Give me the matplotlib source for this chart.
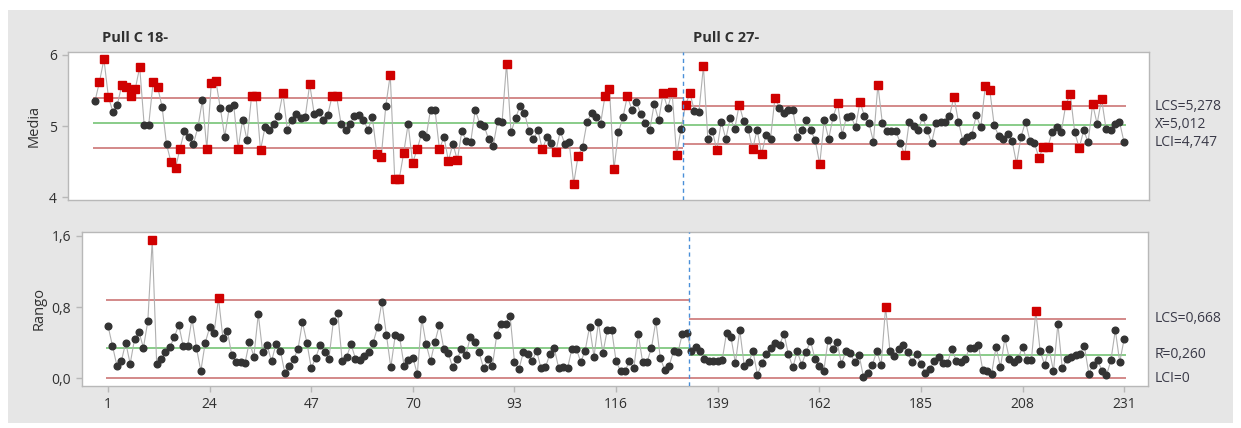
import numpy as np
import matplotlib
matplotlib.use('Agg')
import matplotlib.pyplot as plt
from matplotlib.patches import Rectangle

plt.rcParams['font.family'] = ['Open Sans', 'DejaVu Sans']

W, H = 1241, 428

# medias por subgrupo (1..231)
media = [
    5.35, 5.62, 5.94, 5.41, 5.20, 5.30, 5.58, 5.55, 5.42, 5.52,
    5.83, 5.01, 5.01, 5.62, 5.55, 5.27, 4.74, 4.49, 4.41, 4.68,
    4.93, 4.85, 4.75, 4.98, 5.36, 4.68, 5.60, 5.64, 5.26, 4.85,
    5.25, 5.30, 4.68, 5.09, 4.80, 5.42, 5.42, 4.66, 4.98, 4.94,
    5.03, 5.14, 5.46, 4.95, 5.09, 5.17, 5.11, 5.13, 5.59, 5.17,
    5.20, 5.09, 5.15, 5.42, 5.42, 5.03, 4.95, 5.03, 5.14, 5.15,
    5.09, 4.95, 5.12, 4.61, 4.57, 5.28, 5.72, 4.26, 4.25, 4.62,
    5.03, 4.48, 4.67, 4.89, 4.84, 5.23, 5.23, 4.67, 4.85, 4.51,
    4.75, 4.52, 4.93, 4.79, 4.78, 5.23, 5.03, 5.00, 4.81, 4.72,
    5.07, 5.06, 5.88, 4.91, 5.11, 5.28, 5.19, 4.93, 4.81, 4.94,
    4.67, 4.84, 4.76, 4.63, 4.93, 4.75, 4.77, 4.19, 4.58, 4.71,
    5.06, 5.18, 5.12, 5.03, 5.42, 5.52, 4.39, 4.91, 5.12, 5.42,
    5.23, 5.34, 5.17, 5.04, 4.94, 5.31, 5.08, 5.46, 5.25, 5.48,
    4.59, 4.96, 5.30, 5.46, 5.21, 5.20, 5.84, 4.81, 4.93, 4.66,
    5.06, 4.82, 5.11, 4.96, 5.30, 5.07, 4.96, 4.67, 4.95, 4.60,
    4.88, 4.82, 5.40, 5.25, 5.18, 5.23, 5.22, 4.85, 4.94, 5.09,
    4.94, 4.80, 4.46, 5.08, 4.82, 5.13, 5.32, 4.88, 5.13, 5.14,
    4.98, 5.34, 5.14, 5.04, 4.78, 5.58, 5.04, 4.93, 4.93, 4.93,
    4.76, 4.59, 5.06, 5.00, 4.95, 5.12, 4.95, 4.76, 5.04, 5.06,
    5.06, 5.14, 5.41, 5.06, 4.79, 4.85, 4.88, 5.15, 4.98, 5.56,
    5.51, 5.01, 4.86, 4.82, 4.89, 4.79, 4.47, 4.85, 5.06, 4.79,
    4.76, 4.55, 4.71, 4.71, 4.92, 4.98, 4.92, 5.30, 5.45, 4.91,
    4.69, 4.94, 4.77, 5.31, 5.03, 5.38, 4.96, 4.95, 5.03, 5.06,
    4.78,
]

# rangos por subgrupo (1..231)
rango = [
    0.585, 0.36, 0.14, 0.19, 0.40, 0.16, 0.44, 0.52, 0.34, 0.64,
    1.555, 0.16, 0.21, 0.29, 0.35, 0.46, 0.60, 0.36, 0.36, 0.67,
    0.34, 0.08, 0.40, 0.57, 0.51, 0.90, 0.45, 0.53, 0.26, 0.18,
    0.18, 0.17, 0.41, 0.24, 0.72, 0.29, 0.37, 0.19, 0.38, 0.31,
    0.06, 0.14, 0.21, 0.33, 0.63, 0.40, 0.11, 0.23, 0.37, 0.29,
    0.22, 0.64, 0.73, 0.19, 0.24, 0.38, 0.22, 0.20, 0.25, 0.29,
    0.40, 0.57, 0.86, 0.49, 0.12, 0.48, 0.46, 0.14, 0.20, 0.23,
    0.045, 0.67, 0.38, 0.19, 0.41, 0.60, 0.33, 0.28, 0.12, 0.21,
    0.33, 0.26, 0.46, 0.41, 0.29, 0.11, 0.21, 0.14, 0.49, 0.61,
    0.61, 0.70, 0.18, 0.10, 0.29, 0.27, 0.19, 0.31, 0.11, 0.12,
    0.27, 0.34, 0.11, 0.12, 0.11, 0.33, 0.33, 0.18, 0.31, 0.58,
    0.24, 0.63, 0.28, 0.54, 0.54, 0.19, 0.08, 0.075, 0.19, 0.11,
    0.50, 0.18, 0.18, 0.34, 0.64, 0.23, 0.09, 0.14, 0.30, 0.29,
    0.50, 0.51, 0.31, 0.35, 0.30, 0.21, 0.19, 0.19, 0.19, 0.20,
    0.51, 0.46, 0.17, 0.54, 0.14, 0.18, 0.30, 0.035, 0.17, 0.27,
    0.34, 0.39, 0.37, 0.50, 0.27, 0.12, 0.30, 0.15, 0.29, 0.42,
    0.22, 0.14, 0.08, 0.43, 0.33, 0.41, 0.16, 0.30, 0.28, 0.18,
    0.26, 0.01, 0.06, 0.15, 0.30, 0.15, 0.80, 0.30, 0.25, 0.33,
    0.37, 0.29, 0.18, 0.27, 0.16, 0.06, 0.10, 0.19, 0.24, 0.17,
    0.17, 0.33, 0.19, 0.18, 0.21, 0.34, 0.34, 0.37, 0.09, 0.08,
    0.05, 0.35, 0.12, 0.45, 0.22, 0.18, 0.22, 0.35, 0.20, 0.20,
    0.75, 0.30, 0.15, 0.33, 0.08, 0.61, 0.11, 0.21, 0.24, 0.26,
    0.27, 0.36, 0.05, 0.15, 0.20, 0.08, 0.03, 0.20, 0.54, 0.18,
    0.44,
]

stage_names = ['Pull C 18-', 'Pull C 27-']
stage_first = [1, 133]
stage_last = [132, 231]
xbar_ucl = [5.388, 5.278]
xbar_cl = [5.040, 5.012]
xbar_lcl = [4.692, 4.747]
r_ucl = [0.876, 0.668]
r_cl = [0.340, 0.260]
r_lcl = [0.0, 0.0]
x_ticks = [1, 24, 47, 70, 93, 116, 139, 162, 185, 208, 231]

media = np.array(media)
rango = np.array(rango)
n = np.arange(1, len(media) + 1)

fig = plt.figure(figsize=(W / 100, H / 100), dpi=100, facecolor='white')
fig.add_artist(Rectangle((8 / W, 1 - 423 / H), (1233 - 8) / W, (423 - 10) / H,
                         transform=fig.transFigure, facecolor='#e6e6e6',
                         edgecolor='none', zorder=0))


def px_axes(l, t, r, b):
    return fig.add_axes([l / W, 1 - b / H, (r - l) / W, (b - t) / H])


ax1 = px_axes(68, 52, 1149, 200)
ax2 = px_axes(82, 232, 1148, 386)


def draw_chart(ax, vals, ucl, cl, lcl):
    ax.plot(n, vals, color='#b0b0b0', lw=0.8, zorder=2)
    flag = np.zeros(len(vals), dtype=bool)
    for k in range(len(stage_first)):
        s, e = stage_first[k], stage_last[k]
        seg = (n >= s) & (n <= e)
        flag |= seg & ((vals > ucl[k]) | (vals < lcl[k]))
        ax.hlines([ucl[k], lcl[k]], s - 0.5, e + 0.5, color='#d08080', lw=1.3, zorder=1)
        ax.hlines(cl[k], s - 0.5, e + 0.5, color='#80c880', lw=1.3, zorder=1)
    ax.plot(n[~flag], vals[~flag], 'o', color='#333333', ms=4.8, zorder=3)
    ax.plot(n[flag], vals[flag], 's', color='#d00000', ms=6.2, zorder=4)
    ax.axvline(stage_first[1] - 0.5, color='#4a8fd8', lw=1, ls=(0, (3, 2.5)), zorder=5)
    for sp in ax.spines.values():
        sp.set_color('#b8b8b8')
        sp.set_linewidth(1)
    ax.tick_params(colors='#b8b8b8', labelcolor='#303030', length=4.5, width=1,
                   labelsize=10)


draw_chart(ax1, media, xbar_ucl, xbar_cl, xbar_lcl)
draw_chart(ax2, rango, r_ucl, r_cl, r_lcl)

ax1.set_xlim(-5.03, 236.6)
ax1.set_ylim(3.958, 6.042)
ax1.set_yticks([4, 5, 6])
ax1.set_xticks([])
ax1.set_ylabel('Media', fontsize=10.5, color='#303030', labelpad=5)

ax2.set_xlim(-4.9, 236.4)
ax2.set_ylim(-0.0895, 1.645)
ax2.set_yticks([0.0, 0.8, 1.6])
ax2.set_yticklabels(['0,0', '0,8', '1,6'])
ax2.set_xticks(x_ticks)
ax2.set_ylabel('Rango', fontsize=10.5, color='#303030', labelpad=3)

for k in range(len(stage_names)):
    ax1.annotate(stage_names[k], xy=(stage_first[k] - 0.5, 1),
                 xycoords=('data', 'axes fraction'), xytext=(7, 10),
                 textcoords='offset points', ha='left', va='center',
                 fontsize=10.5, fontweight='bold', color='#303030')


def right_label(txt, ypx):
    fig.text(1155 / W, 1 - ypx / H, txt, fontsize=10, color='#3a3a48',
             ha='left', va='center')


right_label('LCS=5,278', 106)
right_label('X\u0304=5,012', 125)
right_label('LCI=4,747', 143)
right_label('LCS=0,668', 319)
right_label('R\u0304=0,260', 355)
right_label('LCI=0', 378)

fig.savefig('out.png', dpi=100, facecolor='white')
